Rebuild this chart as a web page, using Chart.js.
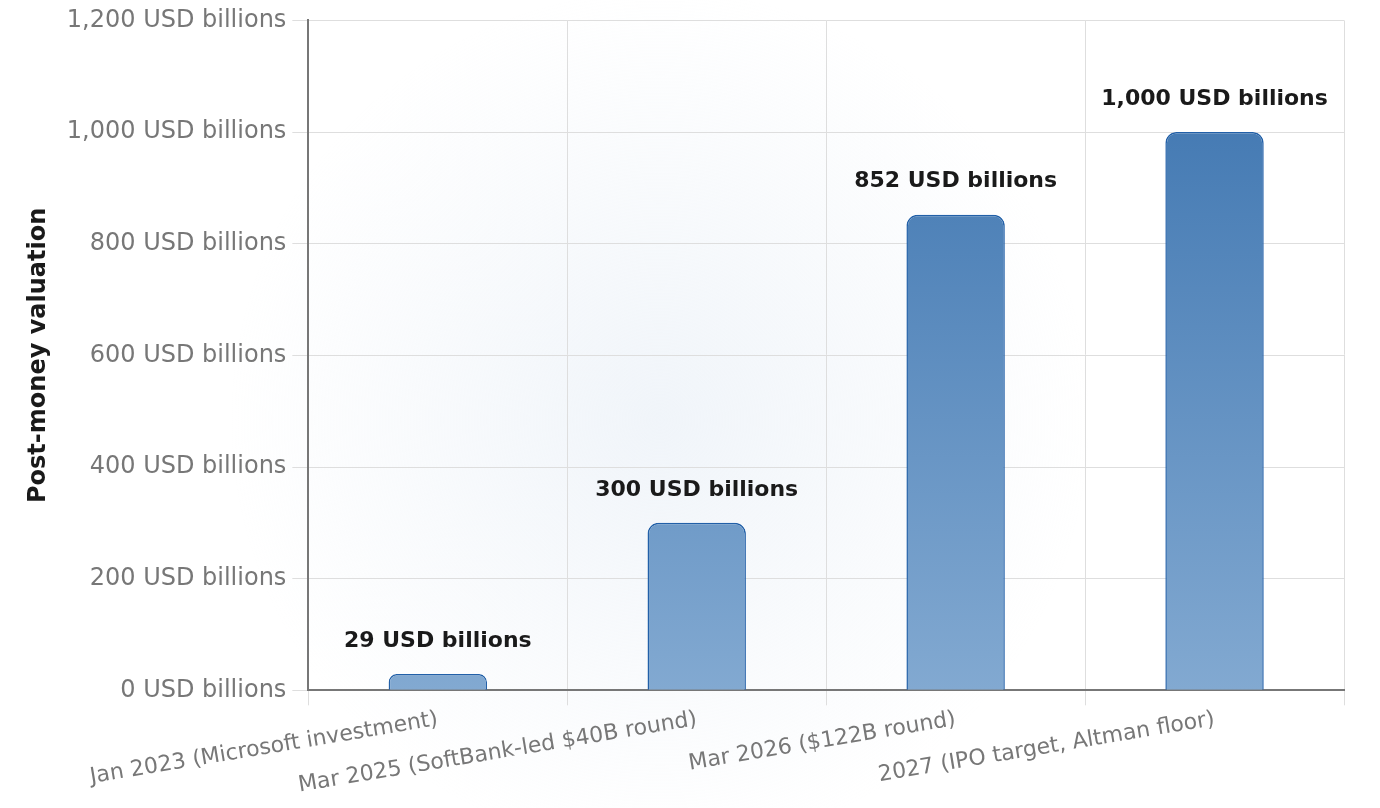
<!DOCTYPE html>
<html>
<head>
<meta charset="utf-8">
<script src="https://cdn.jsdelivr.net/npm/chart.js@4/dist/chart.umd.min.js"></script>
<style>
  body { margin: 0; background: #ffffff; }
  #wrap { width: 1380px; height: 808px; }
</style>
</head>
<body>
<div id="wrap"><canvas id="myChart" width="1380" height="808"></canvas></div>
<script>
var labels = [
  "Jan 2023 (Microsoft investment)",
  "Mar 2025 (SoftBank-led $40B round)",
  "Mar 2026 ($122B round)",
  "2027 (IPO target, Altman floor)"
];
var valuations = [29, 300, 852, 1000];
var yMax = 1200;
var yStep = 200;

function fmt(v) {
  return v.toLocaleString("en-US") + " USD billions";
}

// soft glow behind the plot
var bgGlow = {
  id: "bgGlow",
  beforeDraw: function (chart) {
    var ctx = chart.ctx;
    var g = ctx.createRadialGradient(660, 420, 0, 660, 420, 430);
    g.addColorStop(0, "rgba(228,236,245,0.55)");
    g.addColorStop(1, "rgba(228,236,245,0)");
    ctx.save();
    ctx.fillStyle = g;
    ctx.fillRect(0, 0, chart.width, chart.height);
    ctx.restore();
  }
};

// value labels above each bar
var barLabels = {
  id: "barLabels",
  afterDatasetsDraw: function (chart) {
    var ctx = chart.ctx;
    var meta = chart.getDatasetMeta(0);
    ctx.save();
    ctx.font = "bold 22px 'DejaVu Sans'";
    ctx.fillStyle = "#1a1a1a";
    ctx.textAlign = "center";
    ctx.textBaseline = "middle";
    meta.data.forEach(function (bar, i) {
      ctx.fillText(fmt(valuations[i]), bar.x, bar.y - 33);
    });
    ctx.restore();
  }
};

var chart = new Chart("myChart", {
  type: "bar",
  data: {
    labels: labels,
    datasets: [{
      data: valuations,
      backgroundColor: function (c) {
        var area = c.chart.chartArea;
        if (!area) return "#5b8fc4";
        var g = c.chart.ctx.createLinearGradient(0, area.top, 0, area.bottom);
        g.addColorStop(0, "#3a72ae");
        g.addColorStop(1, "#82a9d1");
        return g;
      },
      borderColor: "#2260a8",
      borderWidth: 1.5,
      borderSkipped: "bottom",
      borderRadius: 11,
      categoryPercentage: 1,
      barPercentage: 0.38
    }]
  },
  options: {
    responsive: false,
    animation: false,
    layout: { padding: { top: 6, right: 36, bottom: 8, left: 20 } },
    plugins: {
      legend: { display: false },
      tooltip: { enabled: false }
    },
    scales: {
      x: {
        grid: { color: "#dedede", lineWidth: 1, tickLength: 15 },
        border: { color: "#777777", width: 2 },
        ticks: {
          color: "#777777",
          font: { family: "'DejaVu Sans'", size: 22 },
          minRotation: 9.5,
          maxRotation: 9.5,
          padding: 1
        }
      },
      y: {
        min: 0,
        max: yMax,
        grid: { color: "#dedede", lineWidth: 1, tickLength: 16 },
        border: { color: "#777777", width: 2 },
        ticks: {
          stepSize: yStep,
          color: "#777777",
          font: { family: "'DejaVu Sans'", size: 24 },
          padding: 6,
          callback: function (v) { return fmt(v); }
        },
        title: {
          display: true,
          text: "Post-money valuation",
          color: "#1a1a1a",
          font: { family: "'DejaVu Sans'", size: 24, weight: "bold" },
          padding: { bottom: 8 }
        }
      }
    }
  },
  plugins: [bgGlow, barLabels]
});
</script>
</body>
</html>
